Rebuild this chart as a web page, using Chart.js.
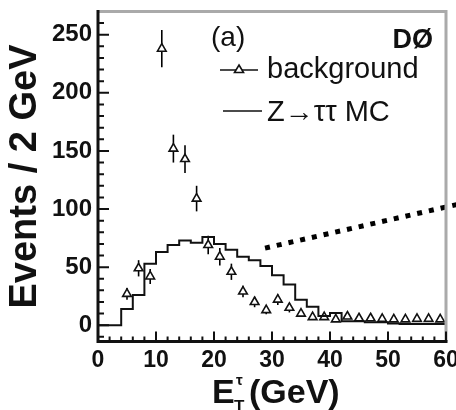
<!DOCTYPE html>
<html>
<head>
<meta charset="utf-8">
<script src="https://cdn.jsdelivr.net/npm/chart.js@4"></script>
<style>
  html, body { margin: 0; padding: 0; background: #fff; }
</style>
</head>
<body>
<canvas id="etChart" width="456" height="410"></canvas>
<script>
// background (open triangles), bin centres in GeV
const bgX = [5, 7, 9, 11, 13, 15, 17, 19, 21, 23, 25, 27, 29, 31, 33, 35, 37, 39, 41, 43, 45, 47, 49, 51, 53, 55, 57, 59];
const bgY = [27, 49, 42, 238, 152, 143, 109, 69, 59, 46, 29, 20, 13, 22, 15, 10, 7, 7, 5, 7.5, 6, 6, 5.5, 5, 5, 5.5, 5.5, 5];
const bgErr = [5, 7, 6.5, 16, 12, 12, 11, 8, 7.5, 7, 5, 4.5, 3.5, 4.5, 4, 3, 2.5, 2.5, 2, 2, 2, 2, 2, 2, 2, 2, 2, 2];

// Z -> tautau MC histogram, 2 GeV bins (left edges)
const mcEdges = [0, 2, 4, 6, 8, 10, 12, 14, 16, 18, 20, 22, 24, 26, 28, 30, 32, 34, 36, 38, 40, 42, 44, 46, 48, 50, 52, 54, 56, 58, 60];
const mcY = [0, 0, 0, 14, 26, 53, 63, 69, 73, 71, 76, 70, 65, 59, 56, 51, 43, 35, 22, 16, 8, 10.5, 3.5, 3.5, 2.5, 2.5, 1.5, 1, 1, 1];

// dotted leader line running off to the right
const leaderX = [28.8, 62];
const leaderY = [66.4, 104];

const xTicks = [0, 10, 20, 30, 40, 50, 60];
const yTicks = [0, 50, 100, 150, 200, 250];

const FONT = "'Liberation Sans', Arial, Helvetica, sans-serif";

const mcPoints = mcEdges.map((e, i) => ({ x: e, y: i < mcY.length ? mcY[i] : mcY[mcY.length - 1] }));
const bgPoints = bgX.map((x, i) => ({ x: x, y: bgY[i] }));
const leaderPoints = leaderX.map((x, i) => ({ x: x, y: leaderY[i] }));

// no extra room for overhanging tick labels, the chart area is fixed by layout padding
const noOverhang = s => {
  s.paddingLeft = 0; s.paddingRight = 0; s.paddingTop = 0; s.paddingBottom = 0;
};

const frame = {
  id: 'frame',
  beforeDatasetsDraw(chart) {
    const c = chart.ctx;
    const xs = chart.scales.x, ys = chart.scales.y;
    c.save();
    c.strokeStyle = '#000';
    c.lineWidth = 1.6;
    bgX.forEach((x, i) => {
      const px = xs.getPixelForValue(x);
      c.beginPath();
      c.moveTo(px, ys.getPixelForValue(bgY[i] - bgErr[i]));
      c.lineTo(px, ys.getPixelForValue(bgY[i] + bgErr[i]));
      c.stroke();
    });
    c.restore();
  },
  afterDatasetsDraw(chart) {
    const c = chart.ctx;
    const a = chart.chartArea;
    const xs = chart.scales.x, ys = chart.scales.y;
    c.save();

    // top / right frame (grey)
    c.strokeStyle = '#aaa';
    c.lineWidth = 3;
    c.beginPath();
    c.moveTo(a.left, a.top);
    c.lineTo(a.right, a.top);
    c.lineTo(a.right, a.bottom);
    c.stroke();

    // axes
    c.strokeStyle = '#111';
    c.lineWidth = 3;
    c.beginPath();
    c.moveTo(a.left, a.top - 1.5);
    c.lineTo(a.left, a.bottom);
    c.lineTo(a.right + 1.5, a.bottom);
    c.stroke();

    // inward ticks
    c.lineWidth = 2;
    c.beginPath();
    for (let v = -10; v <= 260; v += 10) {
      const py = ys.getPixelForValue(v);
      const len = v % 50 === 0 ? 11 : 6;
      c.moveTo(a.left, py);
      c.lineTo(a.left + len, py);
    }
    for (let v = 0; v <= 60; v += 2) {
      const px = xs.getPixelForValue(v);
      const len = v % 10 === 0 ? 10 : 5;
      c.moveTo(px, a.bottom);
      c.lineTo(px, a.bottom - len);
    }
    c.stroke();

    // labels inside the plot
    c.fillStyle = '#111';
    c.textBaseline = 'alphabetic';
    c.font = '28px ' + FONT;
    c.textAlign = 'left';
    c.fillText('(a)', 211, 46);
    c.font = 'bold 27px ' + FONT;
    c.textAlign = 'right';
    c.fillText('DØ', 433, 48);

    // legend
    c.font = '29px ' + FONT;
    c.textAlign = 'left';
    c.fillText('background', 267, 78);
    c.fillText('Z→ττ MC', 267, 121);
    c.strokeStyle = '#111';
    c.lineWidth = 1.6;
    c.beginPath();
    c.moveTo(220, 70); c.lineTo(258, 70);
    c.moveTo(223, 111); c.lineTo(262, 111);
    c.stroke();
    c.fillStyle = '#fff';
    c.beginPath();
    c.moveTo(239, 65); c.lineTo(243.5, 72.5); c.lineTo(234.5, 72.5); c.closePath();
    c.fill(); c.stroke();

    // x-axis title
    c.fillStyle = '#111';
    c.font = 'bold 34px ' + FONT;
    c.fillText('E', 212, 403);
    c.font = 'bold 17px ' + FONT;
    c.fillText('T', 234, 412);
    c.font = 'bold 15px ' + FONT;
    c.fillText('τ', 236, 385);
    c.font = 'bold 34px ' + FONT;
    c.fillText('(GeV)', 249, 403);
    c.restore();
  }
};

const ctx = document.getElementById('etChart').getContext('2d');
new Chart(ctx, {
  type: 'line',
  data: {
    datasets: [{
      label: 'Z→ττ MC',
      data: mcPoints,
      stepped: 'after',
      borderColor: '#111',
      borderWidth: 2,
      pointRadius: 0,
      fill: false
    }, {
      label: 'background',
      data: bgPoints,
      showLine: false,
      pointStyle: 'triangle',
      pointRadius: 5,
      borderColor: '#111',
      borderWidth: 1.6,
      backgroundColor: '#fff'
    }, {
      label: 'leader',
      data: leaderPoints,
      borderColor: '#000',
      borderWidth: 5,
      borderDash: [5, 7],
      pointRadius: 0,
      clip: false
    }]
  },
  options: {
    responsive: false,
    animation: false,
    layout: { padding: { top: 11.5, right: 10, left: 0, bottom: 0 } },
    plugins: { legend: { display: false }, tooltip: { enabled: false } },
    scales: {
      x: {
        type: 'linear',
        min: 0,
        max: 60,
        grid: { display: false, drawTicks: false },
        border: { display: false },
        afterBuildTicks: s => { s.ticks = xTicks.map(v => ({ value: v })); },
        afterFit: s => { s.height = 68.5; noOverhang(s); },
        ticks: { color: '#111', padding: 5, maxRotation: 0, font: { family: FONT, size: 23, weight: 'bold' } }
      },
      y: {
        type: 'linear',
        min: -14,
        max: 270,
        grid: { display: false, drawTicks: false },
        border: { display: false },
        afterBuildTicks: s => { s.ticks = yTicks.map(v => ({ value: v })); },
        afterFit: s => { s.width = 98; noOverhang(s); },
        ticks: { color: '#111', padding: 6, font: { family: FONT, size: 24, weight: 'bold' } },
        title: {
          display: true,
          text: 'Events / 2 GeV',
          color: '#111',
          font: { family: FONT, size: 38, weight: 'bold' },
          padding: { top: 3, bottom: 0 }
        }
      }
    }
  },
  plugins: [frame]
});
</script>
</body>
</html>
